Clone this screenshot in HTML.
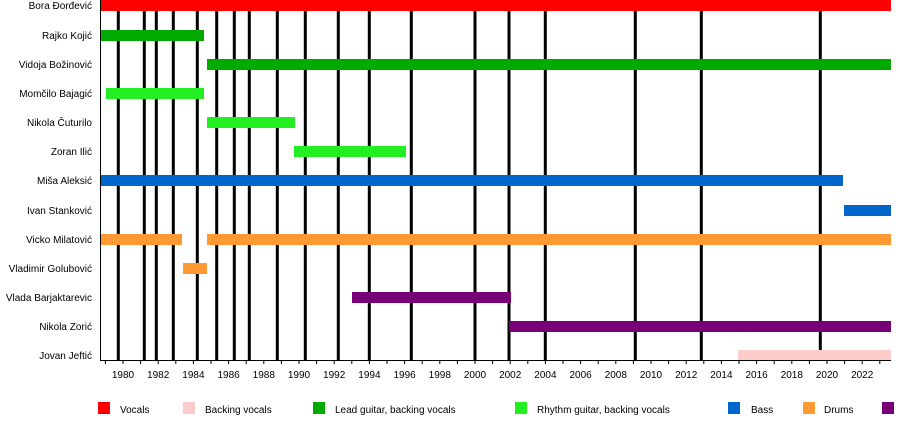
<!DOCTYPE html>
<html><head><meta charset="utf-8"><style>
body{margin:0;background:#fff}
svg{display:block;font-family:"Liberation Sans",sans-serif;font-size:10px}
</style></head><body>
<svg width="900" height="430" viewBox="0 0 900 430">
<g stroke="#000" stroke-width="3">
<line x1="118.3" y1="0" x2="118.3" y2="360"/><line x1="144.3" y1="0" x2="144.3" y2="360"/>
<line x1="156.3" y1="0" x2="156.3" y2="360"/><line x1="173.3" y1="0" x2="173.3" y2="360"/>
<line x1="197.3" y1="0" x2="197.3" y2="360"/><line x1="216.7" y1="0" x2="216.7" y2="360"/>
<line x1="234.3" y1="0" x2="234.3" y2="360"/><line x1="249.3" y1="0" x2="249.3" y2="360"/>
<line x1="277.3" y1="0" x2="277.3" y2="360"/><line x1="305.3" y1="0" x2="305.3" y2="360"/>
<line x1="338.3" y1="0" x2="338.3" y2="360"/><line x1="369.3" y1="0" x2="369.3" y2="360"/>
<line x1="411.3" y1="0" x2="411.3" y2="360"/><line x1="475" y1="0" x2="475" y2="360"/>
<line x1="509" y1="0" x2="509" y2="360"/><line x1="545.3" y1="0" x2="545.3" y2="360"/>
<line x1="635.3" y1="0" x2="635.3" y2="360"/><line x1="701.3" y1="0" x2="701.3" y2="360"/>
<line x1="820.3" y1="0" x2="820.3" y2="360"/>
</g>
<g>
<rect x="101" y="-1" width="790" height="12" fill="#ff0000"/>
<rect x="101" y="30" width="103" height="11" fill="#00aa00"/>
<rect x="207" y="59" width="684" height="11" fill="#00aa00"/>
<rect x="106" y="88" width="98" height="11" fill="#22ee22"/>
<rect x="207" y="117" width="88" height="11" fill="#22ee22"/>
<rect x="294" y="146" width="112" height="11" fill="#22ee22"/>
<rect x="101" y="175" width="742" height="11" fill="#0066cc"/>
<rect x="844" y="205" width="47" height="11" fill="#0066cc"/>
<rect x="101" y="234" width="81" height="11" fill="#ff9933"/>
<rect x="207" y="234" width="684" height="11" fill="#ff9933"/>
<rect x="183" y="263" width="24" height="11" fill="#ff9933"/>
<rect x="352" y="292" width="159" height="11" fill="#770077"/>
<rect x="509" y="321" width="382" height="11" fill="#770077"/>
<rect x="738" y="350" width="153" height="10" fill="#ffcccc"/>
</g>
<line x1="100.5" y1="0" x2="100.5" y2="360" stroke="#000"/>
<line x1="100" y1="360.5" x2="891" y2="360.5" stroke="#000"/>
<g text-anchor="end" fill="#000">
<text x="92" y="9">Bora Đorđević</text>
<text x="92" y="39">Rajko Kojić</text>
<text x="92" y="68">Vidoja Božinović</text>
<text x="92" y="97">Momčilo Bajagić</text>
<text x="92" y="126">Nikola Čuturilo</text>
<text x="92" y="155">Zoran Ilić</text>
<text x="92" y="184">Miša Aleksić</text>
<text x="92" y="214">Ivan Stanković</text>
<text x="92" y="243">Vicko Milatović</text>
<text x="92" y="272">Vladimir Golubović</text>
<text x="92" y="301">Vlada Barjaktarevic</text>
<text x="92" y="330">Nikola Zorić</text>
<text x="92" y="359">Jovan Jeftić</text>
</g>
<g id="ticks" stroke="#000"></g>
<g id="labels" text-anchor="middle" fill="#000"></g>
<g>
<rect x="98" y="402" width="12" height="12" fill="#ff0000"/><text x="120" y="413">Vocals</text>
<rect x="183" y="402" width="12" height="12" fill="#ffcccc"/><text x="205" y="413">Backing vocals</text>
<rect x="313" y="402" width="12" height="12" fill="#00aa00"/><text x="335" y="413">Lead guitar, backing vocals</text>
<rect x="515" y="402" width="12" height="12" fill="#22ee22"/><text x="537" y="413">Rhythm guitar, backing vocals</text>
<rect x="728" y="402" width="12" height="12" fill="#0066cc"/><text x="751" y="413">Bass</text>
<rect x="803" y="402" width="12" height="12" fill="#ff9933"/><text x="824" y="413">Drums</text>
<rect x="882" y="402" width="12" height="12" fill="#770077"/>
</g>
</svg>
<script>
var t=document.getElementById('ticks'),l=document.getElementById('labels'),ns='http://www.w3.org/2000/svg';
for(var y=1979;y<=2023;y++){var x=123+17.6*(y-1980);var ln=document.createElementNS(ns,'line');
ln.setAttribute('x1',x);ln.setAttribute('x2',x);ln.setAttribute('y1',361);ln.setAttribute('y2',364);t.appendChild(ln);
if(y%2==0){var tx=document.createElementNS(ns,'text');tx.setAttribute('x',x);tx.setAttribute('y',378);tx.textContent=y;l.appendChild(tx);}}
</script>
</body></html>
